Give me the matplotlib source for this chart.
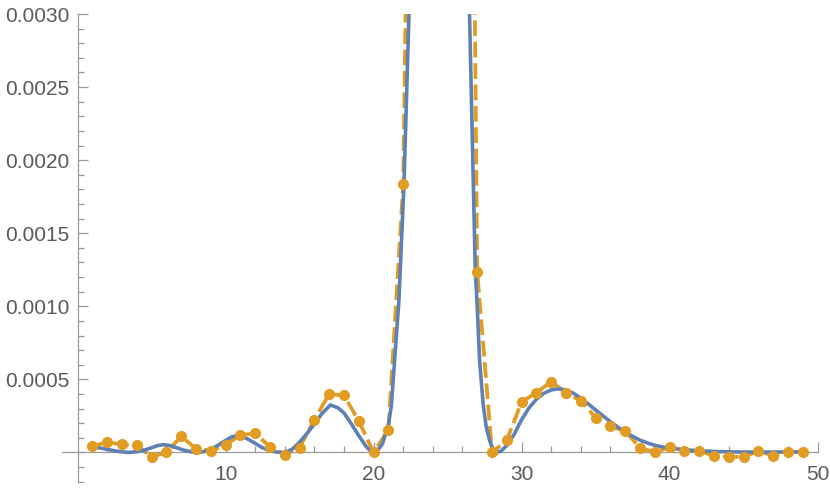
import matplotlib.pyplot as plt
import matplotlib.ticker as mticker

# orange sample points (x = 1..49)
pts_x = list(range(1, 50))
pts_y = [4.3e-5, 7.1e-5, 5.5e-5, 4.8e-5, -3.0e-5, 0.0, 1.1e-4, 2.7e-5, 1.1e-5, 5.0e-5,
         1.2e-4, 1.3e-4, 3.9e-5, -1.5e-5, 3.3e-5, 2.25e-4, 4.0e-4, 3.9e-4, 2.15e-4, 0.0,
         1.56e-4, 1.834e-3, 9.1e-3, 2.0e-2, 2.2e-2, 1.22e-2, 1.236e-3, 0.0, 8.5e-5, 3.46e-4,
         4.1e-4, 4.83e-4, 4.1e-4, 3.53e-4, 2.38e-4, 1.79e-4, 1.46e-4, 3.2e-5, 2e-6, 3.6e-5,
         1.1e-5, 9e-6, -2.3e-5, -3.0e-5, -3.0e-5, 1.1e-5, -2.3e-5, 5e-6, 5e-6]

# blue curve (units of 1e-5)
curve_x = [1, 1.5, 2, 2.5, 3, 3.43, 4, 4.5, 5, 5.4, 5.77, 6.2, 6.7, 7.2, 7.7, 8.15,
           8.6, 9, 9.5, 10, 10.4, 10.74, 11.1, 11.5, 12, 12.5, 13, 13.5, 14.0, 14.5,
           15, 15.5, 16, 16.5, 17.08, 17.6, 18, 18.5, 19, 19.5, 19.88, 20.25, 20.6,
           21, 21.2, 21.42, 21.71, 22.05, 22.39, 22.8, 23.3, 23.9, 24.4, 25.0, 25.6,
           26.0, 26.25, 26.48, 26.7, 26.87, 26.98, 27.16, 27.4, 27.6, 27.83, 28.05,
           28.29, 28.6, 29, 29.5, 30, 30.5, 31, 31.5, 32, 32.44, 33, 33.5, 34, 34.5,
           35, 35.5, 36, 36.5, 37, 37.5, 38, 38.5, 39, 39.5, 40, 41, 42, 43, 44, 45,
           46, 47, 48, 49]
curve_y = [3.5, 3.1, 2.2, 1.1, 0.4, 0.0, 0.5, 1.6, 3.2, 4.7, 5.3, 4.8, 3.2, 1.5, 0.4, 0.0,
           0.7, 2.2, 5.0, 8.2, 10.6, 11.5, 10.9, 9.2, 6.2, 3.2, 1.2, 0.2, 0.0, 2.2,
           7.0, 13.0, 19.5, 26.5, 32.5, 30.5, 27.0, 19.5, 11.5, 4.0, 0.0, 1.2, 6.0,
           19.0, 32.0, 63.0, 104.0, 183.0, 300.0, 480.0, 760.0, 1050.0, 1150.0, 1100.0, 850.0,
           620.0, 450.0, 300.0, 200.0, 124.0, 104.0, 63.0, 33.0, 18.0, 8.4, 2.6,
           0.0, 0.9, 4.8, 12.5, 22.5, 30.5, 36.5, 40.5, 42.8, 43.5, 42.8, 40.5, 37.2, 33.2,
           29.0, 25.0, 21.0, 17.3, 14.0, 11.0, 8.4, 6.5, 4.9, 3.8, 3.0, 1.9, 1.1, 0.7, 0.4, 0.3,
           0.3, 0.3, 0.3, 0.3]
curve_y = [v * 1e-5 for v in curve_y]

blue = '#5E81B5'
orange = '#E19C24'
axis_grey = '#9a9a9a'
label_grey = '#5a5a5a'

plt.rcParams['font.family'] = ['Liberation Sans', 'DejaVu Sans']

fig = plt.figure(figsize=(8.3, 4.91), dpi=100)
ax = fig.add_axes([62.3 / 830, (491 - 481.7) / 491, (817.7 - 62.3) / 830, (481.7 - 14) / 491])

line, = ax.plot(pts_x, pts_y, color=orange, lw=2.7, zorder=2)
line.set_dashes((4.2, 1.5))
ax.plot(curve_x, curve_y, color=blue, lw=2.6, zorder=3, solid_capstyle='round',
        solid_joinstyle='round')
ax.plot(pts_x, pts_y, 'o', color=orange, ms=7, zorder=4)

ax.set_xlim(-1.03, 50)
ax.set_ylim(-0.0002, 0.003)

for s in ['top', 'right']:
    ax.spines[s].set_visible(False)
ax.spines['left'].set_position(('data', 0))
ax.spines['bottom'].set_position(('data', 0))
for s in ['left', 'bottom']:
    ax.spines[s].set_color(axis_grey)
    ax.spines[s].set_linewidth(0.9)

ax.xaxis.set_major_locator(mticker.FixedLocator([10, 20, 30, 40, 50]))
ax.xaxis.set_minor_locator(mticker.FixedLocator([2, 4, 6, 8, 12, 14, 16, 18, 22, 24, 26, 28,
                                                 32, 34, 36, 38, 42, 44, 46, 48]))
ax.yaxis.set_major_locator(mticker.FixedLocator([0.0005, 0.001, 0.0015, 0.002, 0.0025, 0.003]))
ax.yaxis.set_minor_locator(mticker.MultipleLocator(0.0001))
ax.yaxis.set_major_formatter(mticker.FormatStrFormatter('%.4f'))

ax.tick_params(which='both', direction='in', colors=axis_grey, labelcolor=label_grey,
               labelsize=15, width=0.9)
ax.tick_params(which='major', length=7)
ax.tick_params(which='minor', length=4)
ax.tick_params(axis='x', pad=9)
ax.tick_params(axis='y', pad=6)

ax.patch.set_visible(False)
fig.savefig('out.png', dpi=100)
